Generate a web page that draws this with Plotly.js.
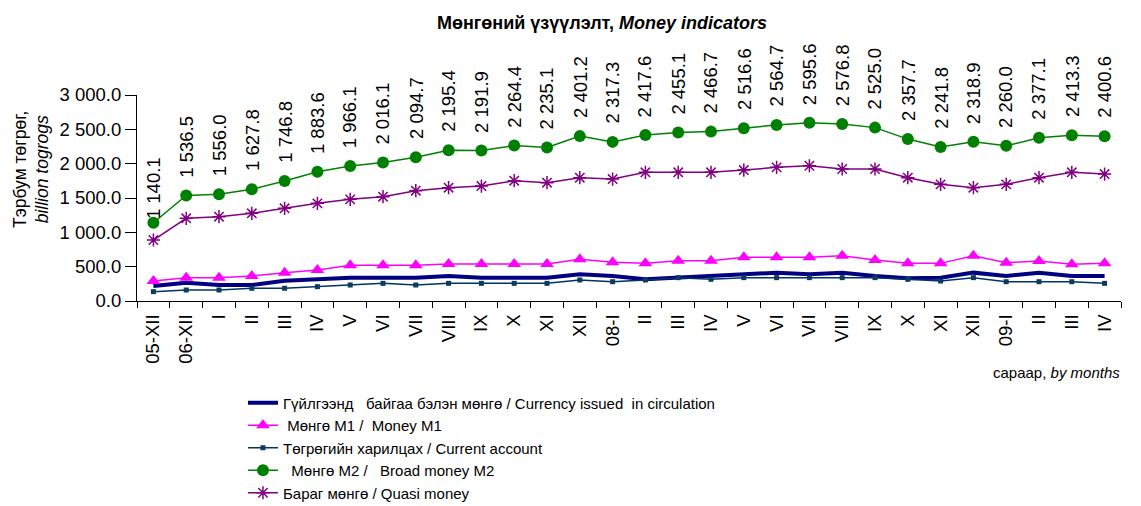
<!DOCTYPE html>
<html>
<head>
<meta charset="utf-8">
<script src="https://cdn.plot.ly/plotly-3.0.1.min.js"></script>
<style>html,body{margin:0;padding:0;background:#fff;}#chart{width:1141px;height:506px;}</style>
</head>
<body>
<div id="chart"></div>
<script>
// ---- data ----
var monthLabels = ["05-XII","06-XII","I","II","III","IV","V","VI","VII","VIII","IX","X","XI","XII",
  "08-I","II","III","IV","V","VI","VII","VIII","IX","X","XI","XII","09-I","II","III","IV"];
var currencyIssued = [218,267,233,233,296,316,340,340,340,364,340,340,340,388,364,
  316,340,364,388,413,388,413,364,330,340,413,364,413,364,364];
var moneyM1 = [291,340,340,364,413,451,519,519,519,539,539,539,539,607,563,
  548,587,587,636,636,636,660,597,548,548,660,558,582,534,548];
var currentAccount = [136,160,160,185,185,209,233,257,233,257,257,257,257,306,281,
  306,340,316,340,340,340,340,340,316,291,340,281,281,281,257];
var broadMoneyM2 = [1140.1,1536.5,1556.0,1627.8,1746.8,1883.6,1966.1,2016.1,2094.7,2195.4,2191.9,2264.4,2235.1,2401.2,2317.3,
  2417.6,2455.1,2466.7,2516.6,2564.7,2595.6,2576.8,2525.0,2357.7,2241.8,2318.9,2260.0,2377.1,2413.3,2400.6];
var quasiMoney = [888,1204,1228,1277,1350,1422,1480,1519,1606,1650,1674,1752,1723,1796,1776,
  1874,1874,1874,1907,1946,1970,1922,1922,1796,1699,1650,1699,1796,1874,1849];
var seriesNames = [
  "Гүйлгээнд\u00a0\u00a0 байгаа бэлэн мөнгө / Currency issued\u00a0 in circulation",
  "\u00a0Мөнгө M1 /\u00a0 Money M1",
  "Төгрөгийн харилцах / Current account",
  "\u00a0\u00a0Мөнгө M2 /\u00a0\u00a0 Broad money M2",
  "Бараг мөнгө / Quasi money"
];
var yTickVals = [0,500,1000,1500,2000,2500,3000];

// ---- helpers ----
var idx = monthLabels.map(function(_, i){ return i; });
function fmt(v){
  var s = v.toFixed(1).split('.');
  return s[0].replace(/\B(?=(\d{3})+(?!\d))/g, ' ') + '.' + s[1];
}
var FONT = "Arial, 'Liberation Sans', sans-serif";

var traces = [
  {x: idx, y: currencyIssued, name: seriesNames[0], mode: 'lines',
   line: {color: '#000080', width: 4}},
  {x: idx, y: moneyM1, name: seriesNames[1], mode: 'lines+markers',
   line: {color: '#FF00FF', width: 1.5},
   marker: {symbol: 'triangle-up', size: 12, color: '#FF00FF'}},
  {x: idx, y: currentAccount, name: seriesNames[2], mode: 'lines+markers',
   line: {color: '#003366', width: 1.5},
   marker: {symbol: 'square', size: 5, color: '#0b3c5d'}},
  {x: idx, y: broadMoneyM2, name: seriesNames[3], mode: 'lines+markers',
   line: {color: '#008000', width: 1.5},
   marker: {symbol: 'circle', size: 12, color: '#008000'}},
  {x: idx, y: quasiMoney, name: seriesNames[4], mode: 'lines+markers',
   line: {color: '#800080', width: 1.5},
   marker: {symbol: 'asterisk-open', size: 11, color: '#800080', line: {color: '#800080', width: 1.5}}}
];

var annotations = broadMoneyM2.map(function(v, i){
  return {x: i, y: v, xref: 'x', yref: 'y', text: fmt(v), showarrow: false,
    textangle: -90, xanchor: 'center', yanchor: 'bottom', yshift: i === 0 ? 2 : 16,
    font: {family: FONT, size: 18.5, color: '#000'}};
});
annotations.push({xref: 'paper', yref: 'paper', x: -0.108, y: 0.64, xanchor: 'center', yanchor: 'middle',
  text: "Тэрбум төгрөг,<br><i>billion togrogs</i>", textangle: -90, showarrow: false,
  font: {family: FONT, size: 17.5, color: '#000'}});
annotations.push({xref: 'paper', yref: 'paper', x: 1.001, y: -0.345, xanchor: 'right', yanchor: 'middle',
  text: "сараар, <i>by months</i>", showarrow: false,
  font: {family: FONT, size: 15, color: '#000'}});

var layout = {
  width: 1141, height: 506,
  paper_bgcolor: '#fff', plot_bgcolor: '#fff',
  separators: '. ',
  margin: {l: 137, r: 20, t: 95, b: 205, autoexpand: false},
  font: {family: FONT, color: '#000'},
  title: {text: "<b>Мөнгөний үзүүлэлт, <i>Money indicators</i></b>",
    xref: 'paper', x: 0.4726, xanchor: 'center', yref: 'container', y: 0.9545, yanchor: 'middle',
    font: {family: FONT, size: 18, color: '#000'}},
  showlegend: true,
  legend: {x: 0.1077, xanchor: 'left', y: -0.415, yanchor: 'top', bgcolor: 'rgba(0,0,0,0)',
    font: {family: FONT, size: 15, color: '#000'}, tracegroupgap: 0},
  xaxis: {range: [-0.5, 29.5], tickmode: 'array', tickvals: idx, ticktext: monthLabels,
    tickangle: -90, ticks: 'outside', ticklen: 5, tickcolor: 'rgba(0,0,0,0)',
    showline: true, linecolor: '#000', linewidth: 1, showgrid: false, zeroline: false,
    tickfont: {family: FONT, size: 18.5, color: '#000'},
    minor: {tick0: -0.5, dtick: 1, ticks: 'outside', ticklen: 6, tickcolor: '#000', tickwidth: 1, showgrid: false}},
  yaxis: {range: [0, 3000], tickmode: 'array', tickvals: yTickVals, tickformat: ',.1f',
    ticks: 'outside', ticklen: 11, tickcolor: '#000', tickwidth: 1,
    showline: true, linecolor: '#000', linewidth: 1, showgrid: false, zeroline: false,
    tickfont: {family: FONT, size: 18.5, color: '#000'}},
  annotations: annotations
};

Plotly.newPlot('chart', traces, layout, {displayModeBar: false, staticPlot: true});
</script>
</body>
</html>
